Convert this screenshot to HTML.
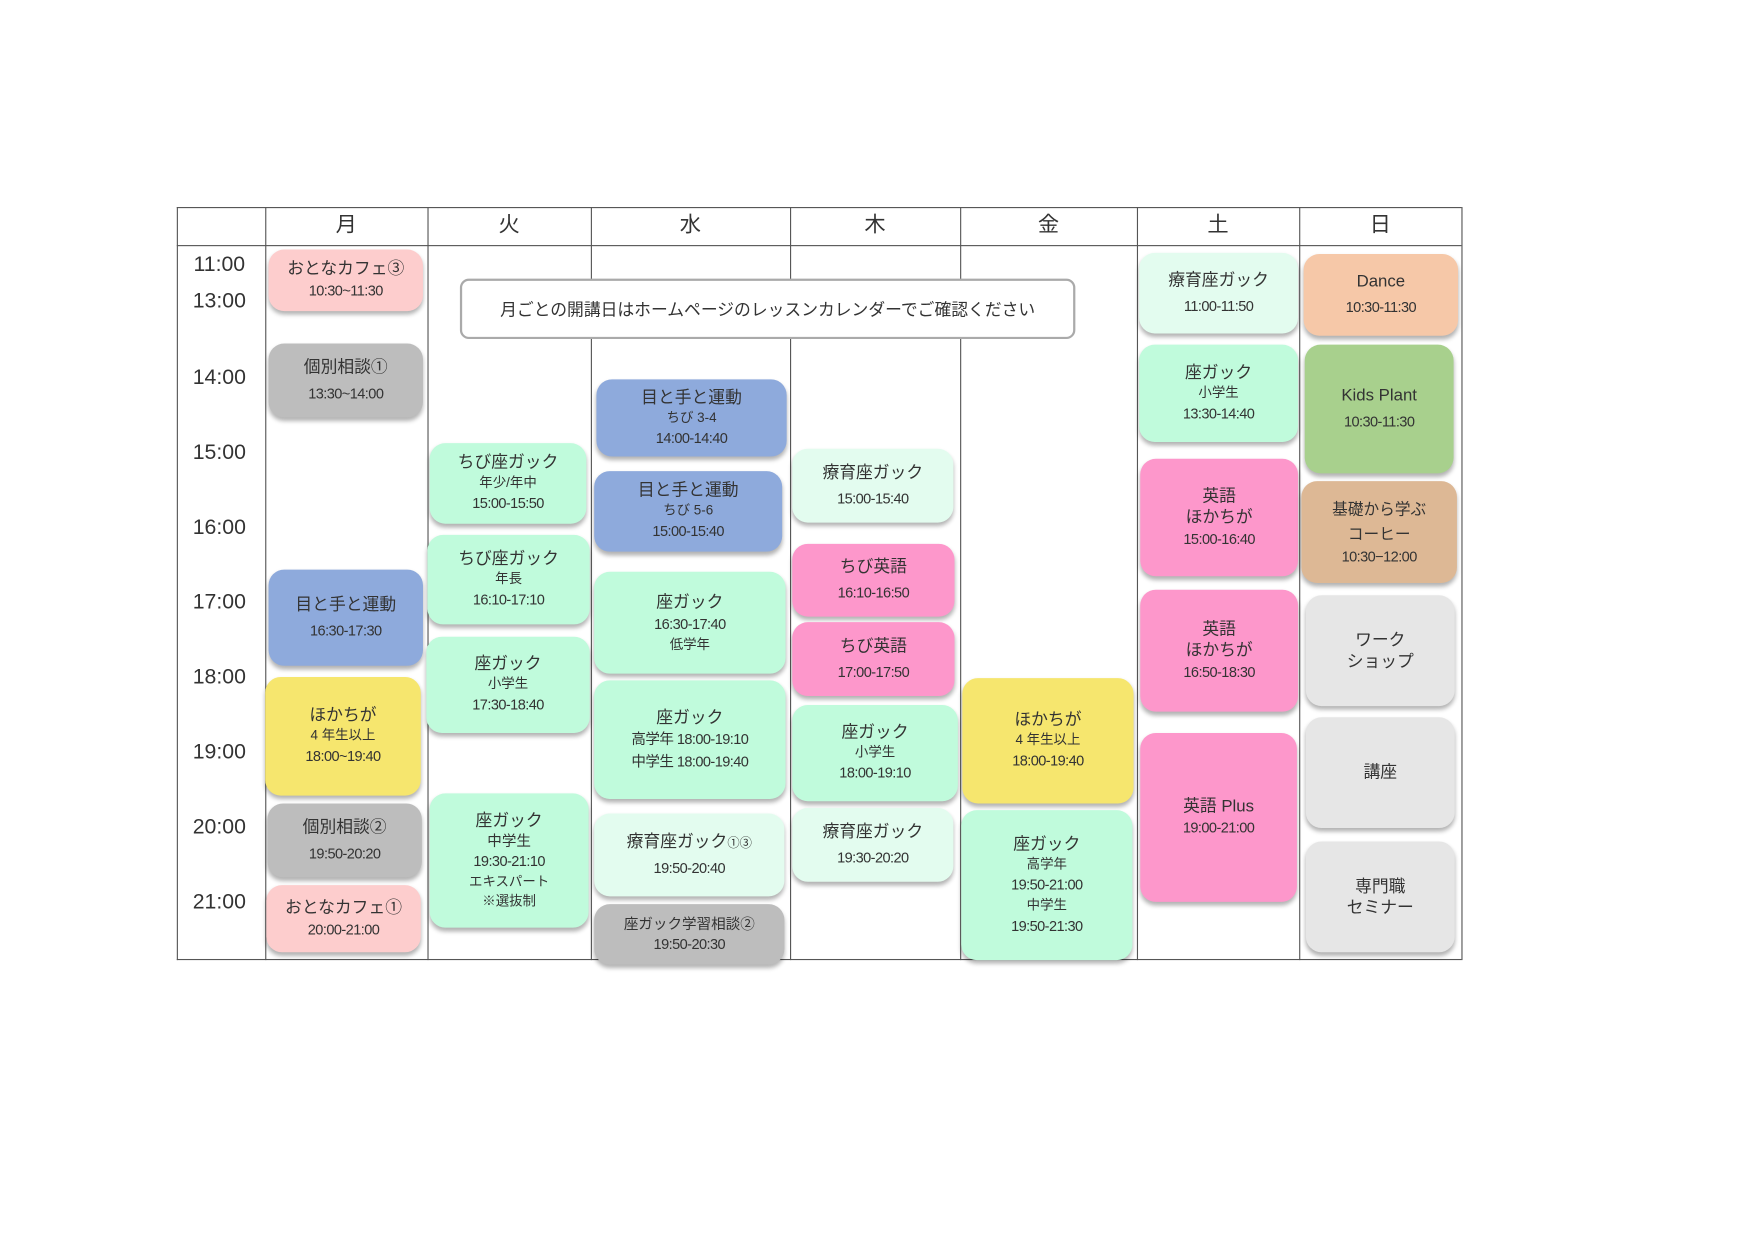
<!DOCTYPE html>
<html><head><meta charset="utf-8">
<style>
html,body{margin:0;padding:0;background:#fff;width:1755px;height:1241px;overflow:hidden}
#w{position:absolute;left:0;top:0;width:1560px;height:1103px;transform:scale(1.119);transform-origin:0 0;font-family:"Liberation Sans","Noto Sans CJK JP",sans-serif;color:#333}
.l{position:absolute;background:#555}
.t{position:absolute;left:160px;width:72px;text-align:center;font-size:19px;line-height:20px;color:#333}
.h{position:absolute;top:185px;height:34px;line-height:34px;text-align:center;font-size:19px;color:#333}
.b{position:absolute;border-radius:14px;box-shadow:0 3px 4px rgba(0,0,0,0.3);display:flex;flex-direction:column;align-items:center;justify-content:center;text-align:center;font-size:15px;line-height:19px;color:#333}
.b small{font-size:12px;line-height:17px}
.b .s{font-size:13px;line-height:20px;letter-spacing:-0.5px}
.pk{background:#fdcdcd}.gy{background:#bdbdbd}.bl{background:#8eaadc}.ye{background:#f6e66e}
.gr{background:#c0fbdc}.lg{background:#e3fcef}.pi{background:#fd97cb}.da{background:#f6c8a8}
.kp{background:#a8d08d}.co{background:#ddb895}.lt{background:#e6e6e6}
</style></head><body><div id="w">
<div class="l" style="left:158px;top:185px;width:1148px;height:1px"></div>
<div class="l" style="left:158px;top:219px;width:1148px;height:1px"></div>
<div class="l" style="left:158px;top:857px;width:1148px;height:1px"></div>
<div class="l" style="left:158px;top:185px;width:1px;height:673px"></div>
<div class="l" style="left:237px;top:185px;width:1px;height:673px"></div>
<div class="l" style="left:382px;top:185px;width:1px;height:673px"></div>
<div class="l" style="left:528px;top:185px;width:1px;height:673px"></div>
<div class="l" style="left:706px;top:185px;width:1px;height:673px"></div>
<div class="l" style="left:858px;top:185px;width:1px;height:673px"></div>
<div class="l" style="left:1016px;top:185px;width:1px;height:673px"></div>
<div class="l" style="left:1161px;top:185px;width:1px;height:673px"></div>
<div class="l" style="left:1306px;top:185px;width:1px;height:673px"></div>
<div class="h" style="left:237px;width:145px">月</div>
<div class="h" style="left:382px;width:146px">火</div>
<div class="h" style="left:528px;width:178px">水</div>
<div class="h" style="left:706px;width:152px">木</div>
<div class="h" style="left:858px;width:158px">金</div>
<div class="h" style="left:1016px;width:145px">土</div>
<div class="h" style="left:1161px;width:145px">日</div>
<div class="t" style="top:227px">11:00</div>
<div class="t" style="top:260px">13:00</div>
<div class="t" style="top:328px">14:00</div>
<div class="t" style="top:395px">15:00</div>
<div class="t" style="top:462px">16:00</div>
<div class="t" style="top:529px">17:00</div>
<div class="t" style="top:596px">18:00</div>
<div class="t" style="top:663px">19:00</div>
<div class="t" style="top:730px">20:00</div>
<div class="t" style="top:797px">21:00</div>
<div style="position:absolute;left:411px;top:249px;width:546px;height:50px;border:2px solid #aaa;border-radius:8px;background:#fff;display:flex;align-items:center;justify-content:center;font-size:15px">月ごとの開講日はホームページのレッスンカレンダーでご確認ください</div>
<div class="b pk" style="left:240px;top:223px;width:138px;height:55px">おとなカフェ③<span class="s">10:30~11:30</span></div>
<div class="b gy" style="left:240px;top:307px;width:138px;height:66px">個別相談①<span class="s" style="margin-top:4px">13:30~14:00</span></div>
<div class="b bl" style="left:240px;top:509px;width:138px;height:86px">目と手と運動<span class="s" style="margin-top:4px">16:30-17:30</span></div>
<div class="b ye" style="left:237px;top:605px;width:139px;height:106px">ほかちが<small>4 年生以上</small><span class="s">18:00~19:40</span></div>
<div class="b gy" style="left:239px;top:718px;width:138px;height:66px">個別相談②<span class="s" style="margin-top:4px">19:50-20:20</span></div>
<div class="b pk" style="left:238px;top:791px;width:138px;height:60px">おとなカフェ①<span class="s">20:00-21:00</span></div>
<div class="b gr" style="left:384px;top:396px;width:140px;height:72px">ちび座ガック<small>年少/年中</small><span class="s">15:00-15:50</span></div>
<div class="b gr" style="left:382px;top:478px;width:145px;height:80px">ちび座ガック<small>年長</small><span class="s">16:10-17:10</span></div>
<div class="b gr" style="left:381px;top:569px;width:146px;height:86px">座ガック<small>小学生</small><span class="s">17:30-18:40</span></div>
<div class="b gr" style="left:384px;top:709px;width:142px;height:120px">座ガック<small style="font-size:13px">中学生</small><span class="s">19:30-21:10</span><small>エキスパート</small><small>※選抜制</small></div>
<div class="b bl" style="left:533px;top:339px;width:170px;height:69px">目と手と運動<small>ちび 3-4</small><span class="s">14:00-14:40</span></div>
<div class="b bl" style="left:531px;top:421px;width:168px;height:72px">目と手と運動<small>ちび 5-6</small><span class="s">15:00-15:40</span></div>
<div class="b gr" style="left:531px;top:511px;width:171px;height:91px">座ガック<span class="s">16:30-17:40</span><small>低学年</small></div>
<div class="b gr" style="left:531px;top:608px;width:171px;height:106px">座ガック<span class="s">高学年 18:00-19:10</span><span class="s">中学生 18:00-19:40</span></div>
<div class="b lg" style="left:531px;top:727px;width:170px;height:74px"><span>療育座ガック<span style="font-size:11px">①③</span></span><span class="s" style="margin-top:2px">19:50-20:40</span></div>
<div class="b gy" style="left:531px;top:808px;width:170px;height:54px"><small style="font-size:13px">座ガック学習相談②</small><span class="s">19:50-20:30</span></div>
<div class="b lg" style="left:708px;top:401px;width:144px;height:66px">療育座ガック<span class="s" style="margin-top:4px">15:00-15:40</span></div>
<div class="b pi" style="left:708px;top:486px;width:145px;height:65px">ちび英語<span class="s" style="margin-top:4px">16:10-16:50</span></div>
<div class="b pi" style="left:708px;top:556px;width:145px;height:66px">ちび英語<span class="s" style="margin-top:4px">17:00-17:50</span></div>
<div class="b gr" style="left:708px;top:630px;width:148px;height:86px">座ガック<small>小学生</small><span class="s">18:00-19:10</span></div>
<div class="b lg" style="left:708px;top:722px;width:144px;height:66px">療育座ガック<span class="s" style="margin-top:4px">19:30-20:20</span></div>
<div class="b ye" style="left:860px;top:606px;width:153px;height:112px">ほかちが<small>4 年生以上</small><span class="s">18:00-19:40</span></div>
<div class="b gr" style="left:859px;top:724px;width:153px;height:134px">座ガック<small>高学年</small><span class="s">19:50-21:00</span><small>中学生</small><span class="s">19:50-21:30</span></div>
<div class="b lg" style="left:1018px;top:226px;width:142px;height:72px">療育座ガック<span class="s" style="margin-top:4px">11:00-11:50</span></div>
<div class="b gr" style="left:1018px;top:308px;width:142px;height:87px">座ガック<small>小学生</small><span class="s">13:30-14:40</span></div>
<div class="b pi" style="left:1019px;top:410px;width:141px;height:105px">英語<span>ほかちが</span><span class="s">15:00-16:40</span></div>
<div class="b pi" style="left:1019px;top:527px;width:141px;height:109px">英語<span>ほかちが</span><span class="s">16:50-18:30</span></div>
<div class="b pi" style="left:1019px;top:655px;width:140px;height:151px">英語 Plus<span class="s">19:00-21:00</span></div>
<div class="b da" style="left:1165px;top:227px;width:138px;height:73px">Dance<span class="s" style="margin-top:4px">10:30-11:30</span></div>
<div class="b kp" style="left:1166px;top:308px;width:133px;height:115px">Kids Plant<span class="s" style="margin-top:4px">10:30-11:30</span></div>
<div class="b co" style="left:1163px;top:430px;width:139px;height:91px"><span style="font-size:14px;line-height:22px">基礎から学ぶ</span><span style="font-size:14px;line-height:22px">コーヒー</span><span class="s">10:30−12:00</span></div>
<div class="b lt" style="left:1167px;top:532px;width:133px;height:99px">ワーク<span>ショップ</span></div>
<div class="b lt" style="left:1167px;top:641px;width:133px;height:99px">講座</div>
<div class="b lt" style="left:1167px;top:752px;width:133px;height:99px">専門職<span>セミナー</span></div>
</div></body></html>
